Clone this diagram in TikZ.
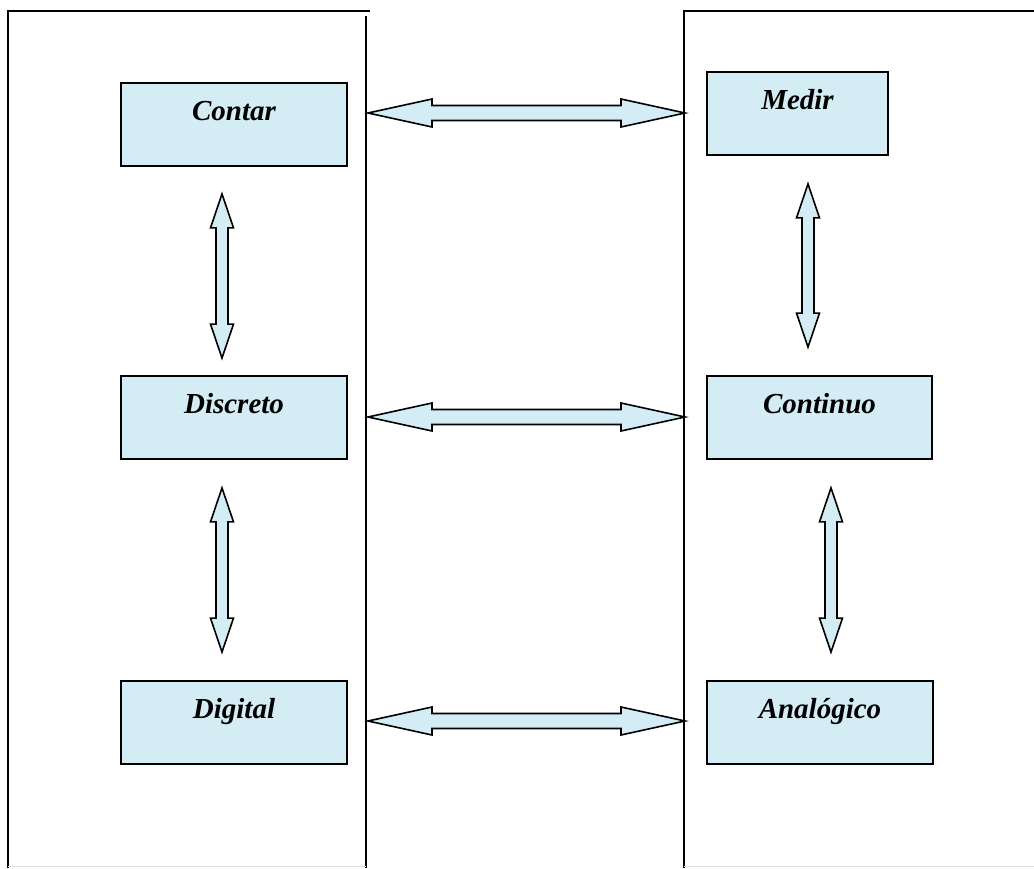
\documentclass[tikz,border=0pt]{standalone}
\usepackage{fontspec}
\setmainfont{Liberation Serif}
\usetikzlibrary{calc}
\definecolor{celeste}{RGB}{212,236,244}

% flecha doble: #1 inicio, #2 fin, #3 largo punta, #4 media punta, #5 medio cuerpo
\newcommand{\flechadoble}[5]{%
  \coordinate (pa) at ($(#1)!#3!(#2)$);
  \coordinate (pb) at ($(#2)!#3!(#1)$);
  \draw[F] (#1) -- ($(pa)!#4!90:(#2)$) -- ($(pa)!#5!90:(#2)$)
    -- ($(pb)!#5!-90:(#1)$) -- ($(pb)!#4!-90:(#1)$) -- (#2)
    -- ($(pb)!#4!90:(#1)$) -- ($(pb)!#5!90:(#1)$)
    -- ($(pa)!#5!-90:(#2)$) -- ($(pa)!#4!-90:(#2)$) -- cycle;
}

\begin{document}
\begin{tikzpicture}[x=1pt, y=-1pt,
    C/.style={fill=celeste, draw=black, line width=1.8pt, inner ysep=0pt,
              text height=37pt, text depth=46pt,
              font=\fontsize{29}{35}\selectfont\bfseries\itshape},
    F/.style={fill=celeste, draw=black, line width=1.6pt, line join=miter},
    P/.style={draw=black, line width=1.8pt}]
  \useasboundingbox (0,0) rectangle (1034,868);

  % --- Paneles ---
  \draw[P] (8,868) -- (8,11) -- (370,11);
  \draw[P] (366,16) -- (366,868);
  \draw[P] (1034,11) -- (684,11) -- (684,868);
  \draw[gray!25, line width=1pt] (8,866.5) -- (366,866.5) (684,866.5) -- (1034,866.5);

  % --- Cajas ---
  \node[C, minimum width=226pt] (contar)    at (234,124.5)   {Contar};
  \node[C, minimum width=181pt] (medir)     at (797.5,113.5) {Medir};
  \node[C, minimum width=226pt] (discreto)  at (234,417.5)   {Discreto};
  \node[C, minimum width=225pt] (continuo)  at (819.5,417.5) {Continuo};
  \node[C, minimum width=226pt] (digital)   at (234,722.5)   {Digital};
  \node[C, minimum width=226pt] (analogico) at (820,722.5)   {Analógico};

  % --- Extremos de las flechas ---
  \coordinate (h1a) at (368,113); \coordinate (h1b) at (685,113);
  \coordinate (h2a) at (368,417); \coordinate (h2b) at (685,417);
  \coordinate (h3a) at (368,721); \coordinate (h3b) at (685,721);
  \coordinate (v1a) at ($(contar.south)+(-12,27)$);
  \coordinate (v1b) at ($(discreto.north)+(-12,-17)$);
  \coordinate (v2a) at ($(discreto.south)+(-12,28)$);
  \coordinate (v2b) at ($(digital.north)+(-12,-28)$);
  \coordinate (v3a) at ($(medir.south)+(10.5,28)$);
  \coordinate (v3b) at ($(continuo.north)+(-11.5,-28)$);
  \coordinate (v4a) at ($(continuo.south)+(11.5,28)$);
  \coordinate (v4b) at ($(analogico.north)+(11,-28)$);

  % --- Flechas horizontales ---
  \flechadoble{h1a}{h1b}{64pt}{14pt}{7.5pt}
  \flechadoble{h2a}{h2b}{64pt}{14pt}{7.5pt}
  \flechadoble{h3a}{h3b}{64pt}{14pt}{7.5pt}
  % --- Flechas verticales ---
  \flechadoble{v1a}{v1b}{34pt}{11.5pt}{6pt}
  \flechadoble{v2a}{v2b}{34pt}{11.5pt}{6pt}
  \flechadoble{v3a}{v3b}{34pt}{11.5pt}{6pt}
  \flechadoble{v4a}{v4b}{34pt}{11.5pt}{6pt}
\end{tikzpicture}
\end{document}
